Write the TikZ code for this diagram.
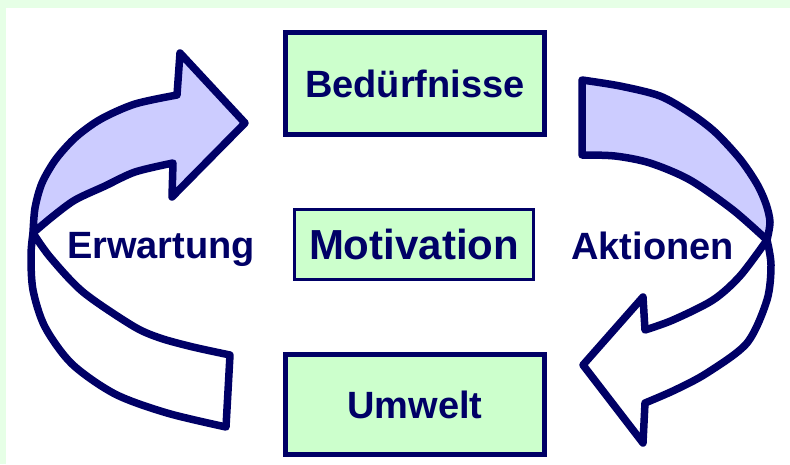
\documentclass[tikz,border=0pt]{standalone}
\usepackage{fontspec}
\setmainfont{Liberation Sans}
\definecolor{navy}{HTML}{000066}
\definecolor{boxgreen}{HTML}{CCFFCC}
\definecolor{lavender}{HTML}{CCCCFF}
\definecolor{pagegreen}{HTML}{E6FFE6}
\tikzset{
  arrowline/.style={draw=navy, line width=7.5pt, line join=round},
  labelbox/.style={draw=navy, fill=boxgreen, line width=5pt, text=navy,
    font=\fontsize{38}{40}\selectfont\bfseries, inner sep=0pt},
  sidetext/.style={text=navy, font=\fontsize{38}{40}\selectfont\bfseries,
    anchor=base, inner sep=0pt},
}
\begin{document}
\begin{tikzpicture}[x=1pt, y=-1pt]
  \useasboundingbox (0,0) rectangle (790,464);
  % page background with a thin green margin at top and left
  \fill[pagegreen] (0,0) rectangle (790,464);
  \fill[white] (6,8) rectangle (790,464);

  % left curved arrow: back band (white), then front band with head (lavender)
  \filldraw[arrowline, fill=white]
    plot[smooth] coordinates {(33,233) (31,255) (33,290) (45,327) (72,364) (115,394) (167,413) (226,427)}
    -- plot[smooth] coordinates {(230,355) (193,347) (160,338) (133,326) (83,292) (50,257) (33,233)}
    -- cycle;
  \filldraw[arrowline, fill=lavender]
    plot[smooth] coordinates {(33,233) (35,208) (42,183) (56,159) (76,137) (101,119) (135,104) (177,95)}
    -- (180,53) -- (245,123) -- (172,197) -- (173,163)
    -- plot[smooth] coordinates {(173,163) (135,172) (105,186) (75,200) (52,217) (33,233)}
    -- cycle;

  % right curved arrow: top band (lavender), then lower band with head (white)
  \filldraw[arrowline, fill=lavender]
    plot[smooth] coordinates {(767,240) (770,222) (766,204) (757,184) (740,159) (715,132) (690,113) (660,96) (620,86) (582,80)}
    -- (582,155)
    -- plot[smooth] coordinates {(582,155) (615,156) (650,163) (690,180) (733,210) (767,240)}
    -- cycle;
  \filldraw[arrowline, fill=white]
    plot[smooth] coordinates {(767,240) (771,265) (767,300) (747,343) (707,373) (675,390) (645,403)}
    -- (643,443) -- (583,365) -- (643,297) -- (645,330)
    -- plot[smooth] coordinates {(645,330) (673,320) (713,300) (740,276) (767,240)}
    -- cycle;

  % boxes
  \node[labelbox, minimum width=259pt, minimum height=102pt] (needs) at (415,83.5) {Bedürfnisse};
  \node[labelbox, line width=3pt, minimum width=239pt, minimum height=70pt,
        font=\fontsize{42}{44}\selectfont\bfseries] (motiv) at (414,244.5) {Motivation};
  \node[labelbox, minimum width=259pt, minimum height=100pt] (env) at (415,404.5) {Umwelt};

  % arrow labels
  \node[sidetext] (expect) at (161,258) {Erwartung};
  \node[sidetext] (action) at (652.5,259) {Aktionen};
\end{tikzpicture}
\end{document}
